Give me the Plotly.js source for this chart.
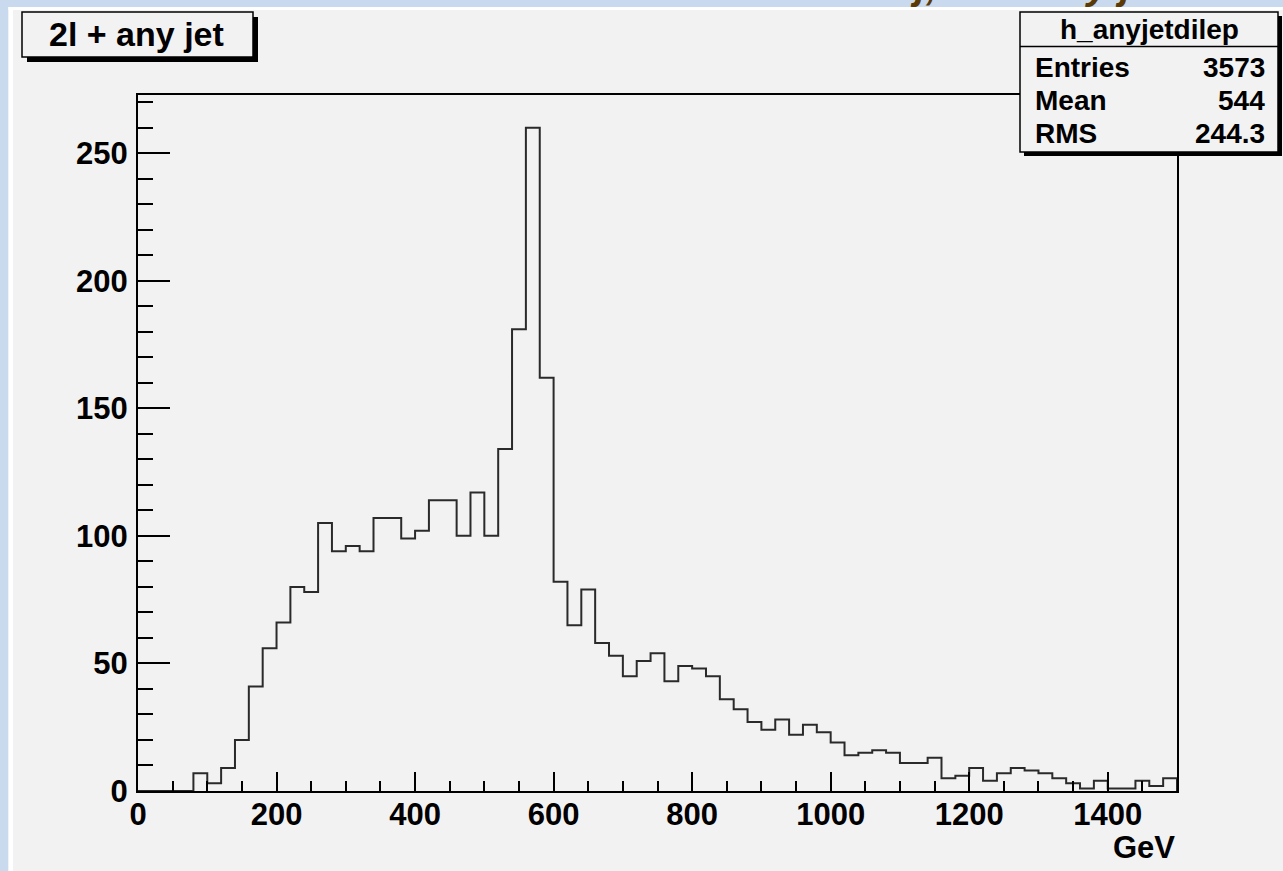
<!DOCTYPE html>
<html>
<head>
<meta charset="utf-8">
<script src="https://cdn.plot.ly/plotly-3.0.1.min.js"></script>
<style>
  html, body { margin: 0; padding: 0; background: #f2f2f2; overflow: hidden; }
  #chart { width: 1283px; height: 871px; }
</style>
</head>
<body>
<div id="chart"></div>
<script>
// ---- data ----
const xMin = 0;
const xMax = 1500;
const counts = [
  0, 0, 0, 0, 7, 3, 9, 20, 41, 56,
  66, 80, 78, 105, 94, 96, 94, 107, 107, 99,
  102, 114, 114, 100, 117, 100, 134, 181, 260, 162,
  82, 65, 79, 58, 53, 45, 51, 54, 43, 49,
  48, 45, 36, 32, 27, 24, 28, 22, 26, 23,
  19, 14, 15, 16, 15, 11, 11, 13, 5, 6,
  9, 4, 7, 9, 8, 7, 5, 3, 1, 4,
  1, 1, 4, 2, 5
];
const histTitle = "2l + any jet";
const statsName = "h_anyjetdilep";
const statsLabels = ["Entries", "Mean", "RMS"];
const statsValues = ["3573", "544", "244.3"];
const xAxisLabel = "GeV";
const slideTitleA = "2l + j,";
const slideTitleB = "2l + any jet";

// ---- build step outline from bins ----
const nb = counts.length;
const bw = (xMax - xMin) / nb;
const xs = [], ys = [];
for (let i = 0; i < nb; i++) { xs.push(xMin + i * bw); ys.push(counts[i]); }
xs.push(xMax); ys.push(counts[nb - 1]);
xs.push(xMax); ys.push(0);

// ---- geometry helpers (pixel -> paper) ----
const W = 1283, H = 871;
const L = 138, R = 1177, T = 95, B = 791;
const px = p => (p - L) / (R - L);
const py = p => (B - p) / (B - T);

const FONT = "Liberation Sans, Arial, Helvetica, sans-serif";
const blue = "#c9d9ee";
const bg = "#f2f2f2";

const shapes = [
  // slide background strips
  {type: "rect", xref: "paper", yref: "paper", x0: px(0), x1: px(8.5), y0: py(H), y1: py(0), fillcolor: blue, line: {width: 0}, layer: "below"},
  {type: "rect", xref: "paper", yref: "paper", x0: px(0), x1: px(W), y0: py(7), y1: py(0), fillcolor: blue, line: {width: 0}, layer: "below"},
  {type: "rect", xref: "paper", yref: "paper", x0: px(8.5), x1: px(13), y0: py(H), y1: py(7), fillcolor: "#ffffff", line: {width: 0}, layer: "below"},
  {type: "rect", xref: "paper", yref: "paper", x0: px(8.5), x1: px(W), y0: py(10), y1: py(7), fillcolor: "#ffffff", line: {width: 0}, layer: "below"},
  // title box + shadow
  {type: "rect", xref: "paper", yref: "paper", x0: px(27), x1: px(258), y0: py(62), y1: py(17), fillcolor: "#000", line: {width: 0}, layer: "above"},
  {type: "rect", xref: "paper", yref: "paper", x0: px(22), x1: px(253), y0: py(57), y1: py(12), fillcolor: bg, line: {color: "#000", width: 1.5}, layer: "above"},
  // stats box + shadow
  {type: "rect", xref: "paper", yref: "paper", x0: px(1024), x1: px(1282), y0: py(156), y1: py(16), fillcolor: "#000", line: {width: 0}, layer: "above"},
  {type: "rect", xref: "paper", yref: "paper", x0: px(1020), x1: px(1278), y0: py(152), y1: py(12), fillcolor: bg, line: {color: "#000", width: 1.5}, layer: "above"},
  {type: "line", xref: "paper", yref: "paper", x0: px(1020), x1: px(1278), y0: py(46.5), y1: py(46.5), line: {color: "#000", width: 1.5}, layer: "above"}
];

const ann = (text, x, y, size, xanchor, extra) => Object.assign({
  text: text, xref: "paper", yref: "paper", x: px(x), y: py(y),
  xanchor: xanchor, yanchor: "middle", showarrow: false,
  font: {family: FONT, size: size, color: "#000", weight: "bold"}
}, extra || {});

const annotations = [
  ann(histTitle, 136, 34, 34, "center"),
  ann(statsName, 1149, 30, 28, "center"),
  ann(xAxisLabel, 1177, 847, 31, "right")
];
statsLabels.forEach((lab, i) => {
  const yy = [67, 101, 134][i];
  annotations.push(ann(lab, 1033, yy, 28, "left"));
  annotations.push(ann(statsValues[i], 1267, yy, 28, "right"));
});
// clipped slide title (only descenders visible)
annotations.push({text: slideTitleA, xref: "paper", yref: "paper", x: px(939), y: py(9), xanchor: "right", yanchor: "bottom", showarrow: false,
  font: {family: FONT, size: 40, color: "#5a3a06", weight: "bold", style: "italic"}});
annotations.push({text: slideTitleB, xref: "paper", yref: "paper", x: px(958), y: py(9), xanchor: "left", yanchor: "bottom", showarrow: false,
  font: {family: FONT, size: 40, color: "#5a3a06", weight: "bold", style: "italic"}});

const tickFont = {family: FONT, size: 31, color: "#000", weight: "bold"};

const trace = {
  type: "scatter", mode: "lines", x: xs, y: ys,
  line: {shape: "hv", color: "#2a2a2a", width: 2},
  hoverinfo: "skip", showlegend: false
};

const layout = {
  width: W, height: H,
  margin: {l: L, r: W - R, t: T, b: H - B, pad: 0},
  paper_bgcolor: bg, plot_bgcolor: bg,
  showlegend: false,
  xaxis: {
    range: [xMin, xMax], tickmode: "linear", tick0: 0, dtick: 200,
    ticks: "inside", ticklen: 19, tickwidth: 2, tickcolor: "#000",
    showline: true, linecolor: "#000", linewidth: 2, mirror: true,
    showgrid: false, zeroline: false, tickfont: tickFont, ticklabelstandoff: -5,
    minor: {dtick: 50, tick0: 0, ticks: "inside", ticklen: 10, tickwidth: 2, tickcolor: "#000", showgrid: false}
  },
  yaxis: {
    range: [0, 272.8], tickmode: "linear", tick0: 0, dtick: 50,
    ticks: "inside", ticklen: 32, tickwidth: 2, tickcolor: "#000",
    showline: true, linecolor: "#000", linewidth: 2, mirror: true,
    showgrid: false, zeroline: false, tickfont: tickFont, ticklabelstandoff: 2,
    minor: {dtick: 10, tick0: 0, ticks: "inside", ticklen: 15, tickwidth: 2, tickcolor: "#000", showgrid: false}
  },
  shapes: shapes,
  annotations: annotations
};

Plotly.newPlot("chart", [trace], layout, {staticPlot: true, displayModeBar: false});
</script>
</body>
</html>
